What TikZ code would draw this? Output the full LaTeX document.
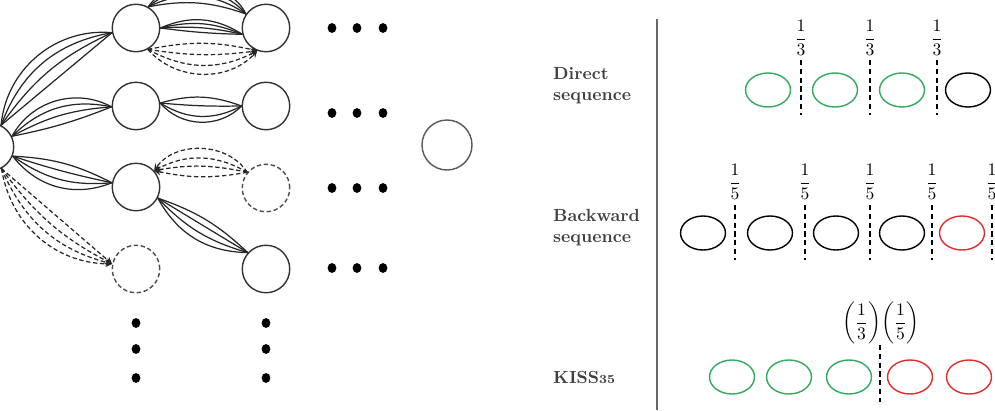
\documentclass[tikz,border=0pt]{standalone}
\usetikzlibrary{shapes.geometric, positioning}
\definecolor{seqgreen}{RGB}{50,170,95}
\definecolor{seqred}{RGB}{225,45,45}
\tikzset{
  visited/.style={circle, draw=black!80, line width=0.8pt, minimum size=0.95cm, inner sep=0pt},
  pruned/.style={visited, draw=black!70, dash pattern=on 2.5pt off 1.5pt},
  edge/.style={line width=0.7pt, black!85},
  ghostedge/.style={edge, dash pattern=on 2.5pt off 1.5pt, ->, >=stealth},
  seqball/.style={ellipse, draw, line width=0.8pt, minimum width=0.9cm, minimum height=0.68cm, inner sep=0pt},
  cut/.style={line width=0.8pt, dash pattern=on 3pt off 2pt},
  rowlabel/.style={anchor=west, align=left, font=\bfseries, text=black!75}
}
\begin{document}
\begin{tikzpicture}[x=0.02cm, y=0.02cm]
  \useasboundingbox (0,0) rectangle (995,410);
  \clip (0,0) rectangle (995,410);

  % Search tree
  \node[visited] (root) at (-10,263) {};
  \node[visited] (c11) at (136,382) {};
  \node[visited] (c12) at (136,304) {};
  \node[visited] (c13) at (136,223) {};
  \node[pruned]  (c14) at (136,141) {};
  \node[visited] (c21) at (266,382) {};
  \node[visited] (c22) at (266,304) {};
  \node[pruned]  (c23) at (266,222) {};
  \node[visited] (c24) at (266,141) {};
  \node[visited, draw=black!65, minimum size=1cm] (goal) at (447,265) {};

  % Bundles from the root
  \foreach \b in {0,15,30,45}
    \draw[edge] (root.63) to[bend left=\b] (c11.191);
  \foreach \b in {-5,12,28,45}
    \draw[edge] (root.26) to[bend left=\b] (c12.182);
  \foreach \b in {12,-3,-20,-37}
    \draw[edge] (root.-22) to[bend left=\b] (c13.170);
  \foreach \b in {0,13,26,40}
    \draw[ghostedge] (root.-62) to[bend right=\b] (c14.168);

  % Bundles into the second column
  \foreach \b in {15,30,45,60}
    \draw[edge] (c11.60) to[bend left=\b] (c21.145);
  \foreach \b in {-3,8,18,28}
    \draw[edge] (c11.0) to[bend left=\b] (c21.195);
  \foreach \b in {-12,8,28,48}
    \draw[ghostedge] (c11.-61) to[bend right=\b] (c21.-111);
  \foreach \b in {18,-3,-30,-48}
    \draw[edge] (c12.7) to[bend left=\b] (c22.180);
  \foreach \b in {56,29,11,-11}
    \draw[ghostedge] (c23.140) to[bend right=\b] (c13.42);
  \foreach \b in {12,0,-15,-30}
    \draw[edge] (c13.-27) to[bend left=\b] (c24.138);

  % Dots
  \foreach \y in {382,297,222,142}
    \foreach \x in {332,357,383}
      \fill (\x,\y) ellipse[x radius=2.5pt, y radius=2.8pt];
  \foreach \x in {136,266}
    \foreach \y in {87,61,32}
      \fill (\x,\y) ellipse[x radius=2.5pt, y radius=2.8pt];

  % Divider
  \draw[black!60, line width=1pt] (657,391) -- (657,0);

  % Direct sequence
  \node[rowlabel] (direct) at (547,324) {Direct\\sequence};
  \foreach \x/\c [count=\i] in {768/seqgreen,835/seqgreen,902/seqgreen,968/black}
    \node[seqball, draw=\c] (dir\i) at (\x,320) {};
  \foreach \x [count=\i] in {801,870,937} {
    \draw[cut] (\x,350) -- (\x,295);
    \node (dirfrac\i) at (\x,372) {$\displaystyle\frac{1}{3}$};
  }

  % Backward sequence
  \node[rowlabel] (backward) at (547,182) {Backward\\sequence};
  \foreach \x/\c [count=\i] in {703/black,770/black,836/black,902/black,962/seqred}
    \node[seqball, draw=\c] (back\i) at (\x,177) {};
  \foreach \x [count=\i] in {735,805,870,932,992} {
    \draw[cut] (\x,205) -- (\x,150);
    \node (backfrac\i) at (\x,228) {$\displaystyle\frac{1}{5}$};
  }

  % KISS
  \node[rowlabel] (kiss) at (547,33) {KISS{\scriptsize 35}};
  \foreach \x/\c [count=\i] in {732/seqgreen,789/seqgreen,849/seqgreen,910/seqred,969/seqred}
    \node[seqball, draw=\c] (kiss\i) at (\x,33) {};
  \draw[cut] (880,65) -- (880,8);
  \node (kissfrac) at (881,87) {$\displaystyle{\left(\frac{1}{3}\right)}{\left(\frac{1}{5}\right)}$};
\end{tikzpicture}
\end{document}
